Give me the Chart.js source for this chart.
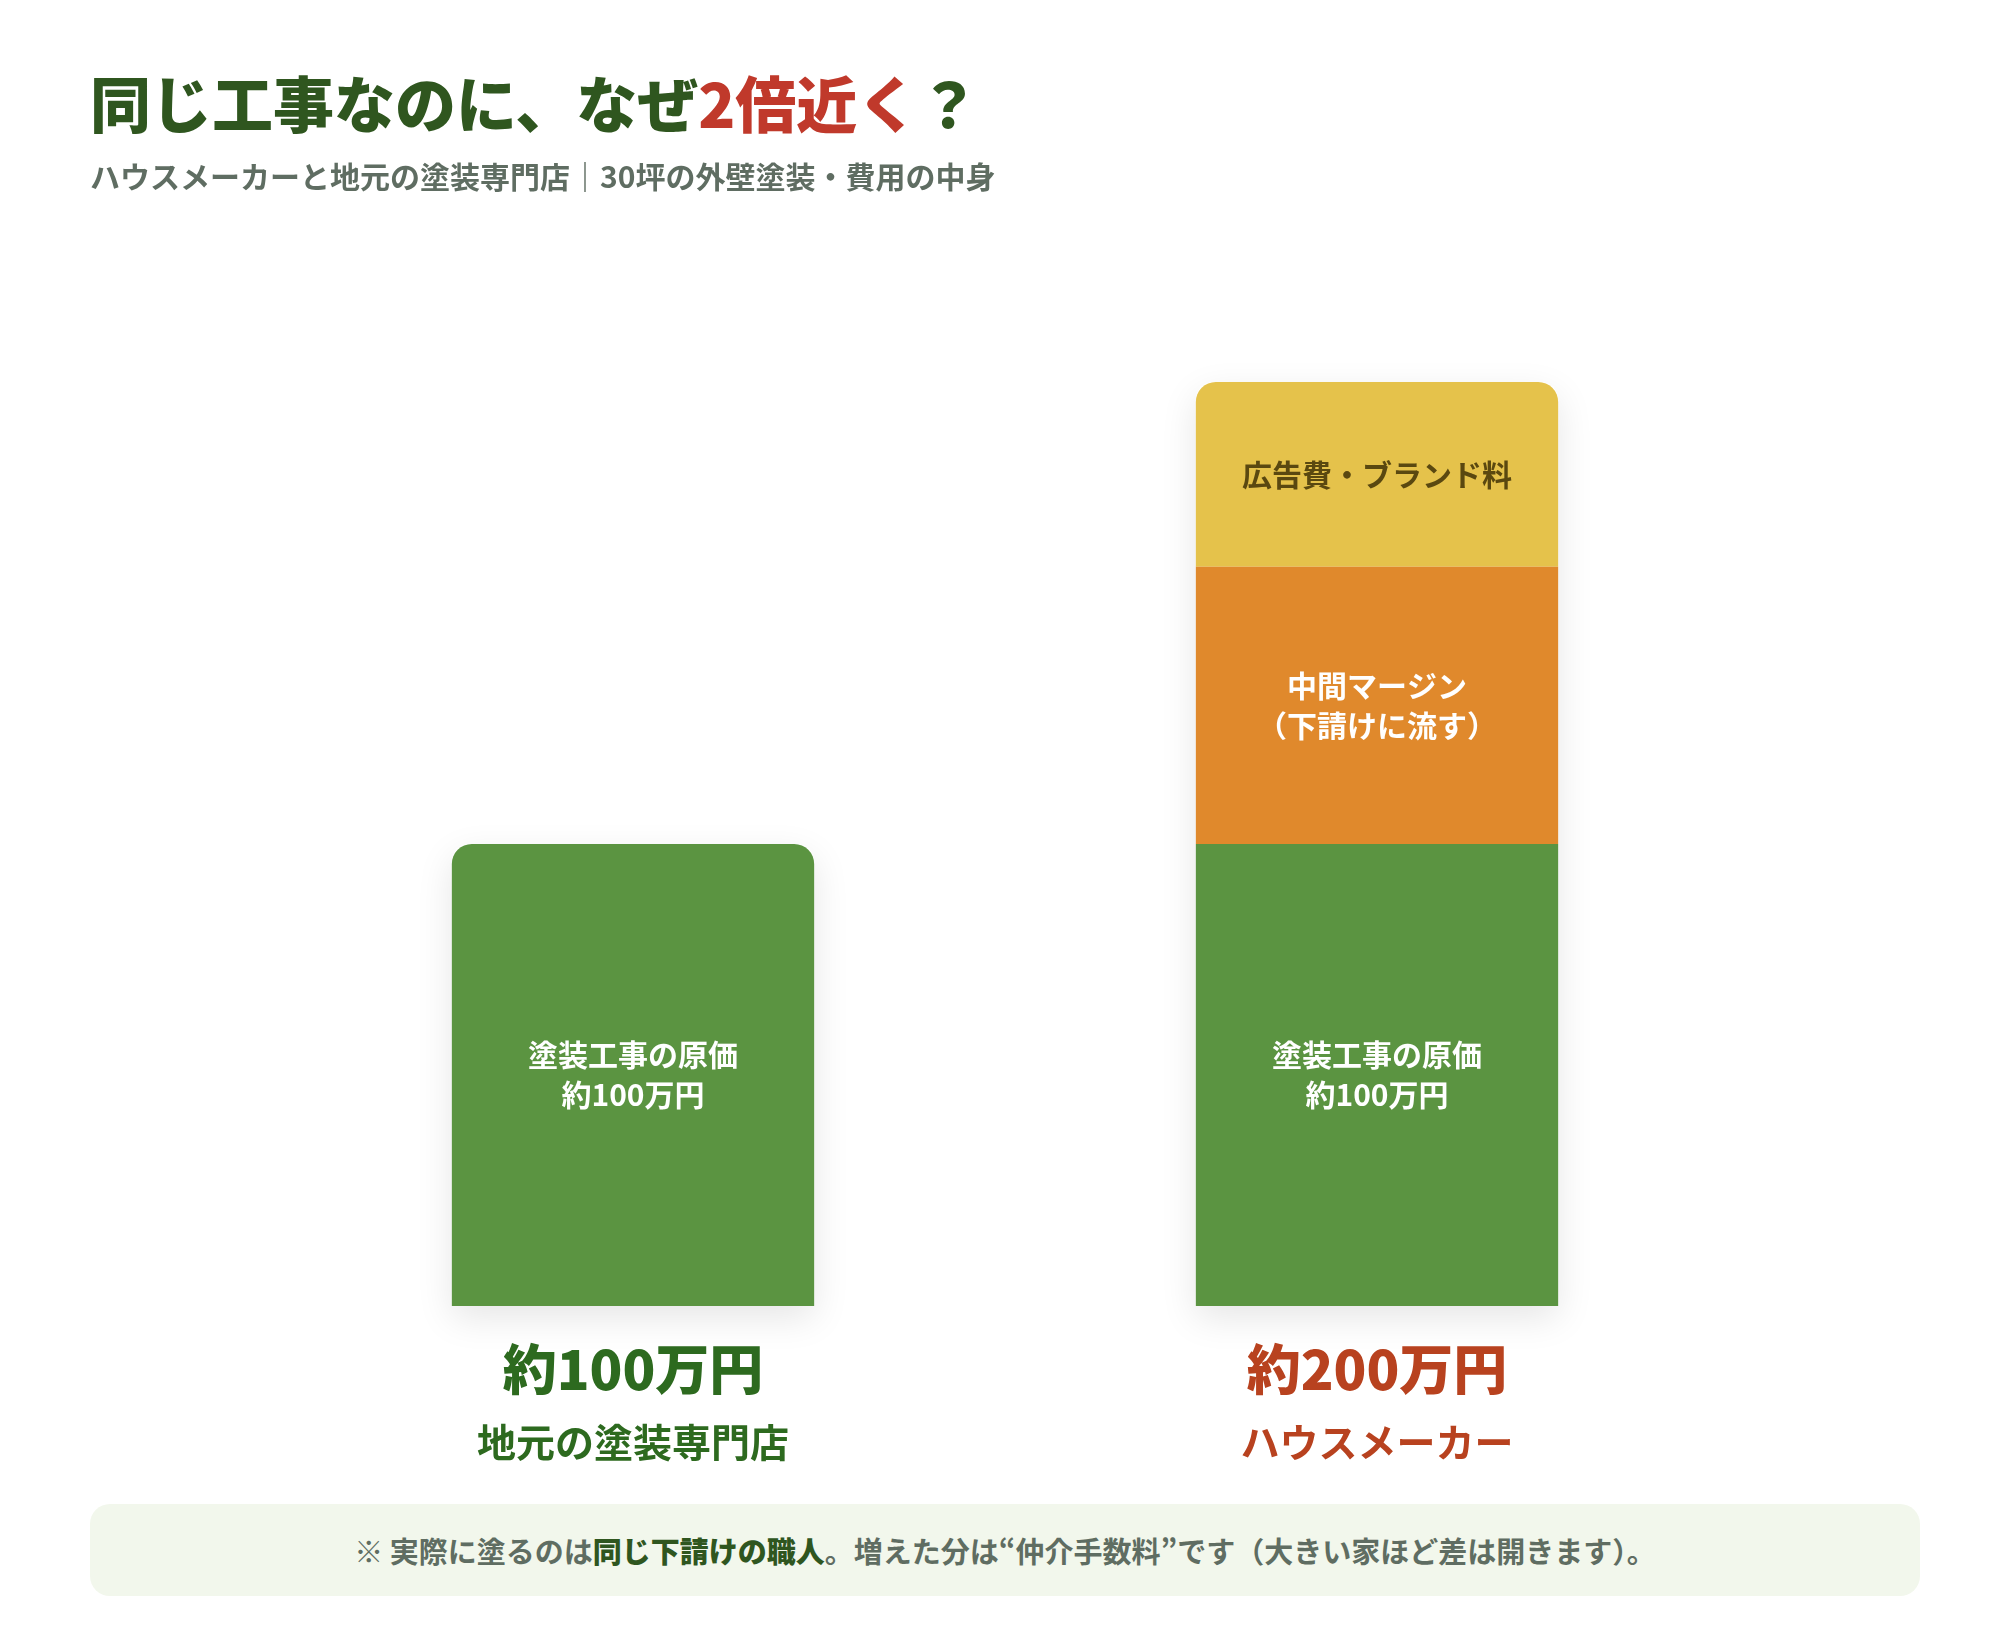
<!DOCTYPE html>
<html lang="ja">
<head>
<meta charset="utf-8">
<title>同じ工事なのに、なぜ2倍近く？</title>
<script src="https://cdn.jsdelivr.net/npm/chart.js@4.4.1/dist/chart.umd.min.js"></script>
<style>
  html, body { margin: 0; padding: 0; background: #fff; }
  body { width: 2000px; height: 1640px; position: relative; overflow: hidden;
         font-family: "Noto Sans CJK JP", "Noto Sans", sans-serif; font-weight: 700; }
  #chartWrap { position: absolute; left: 0; top: 0; width: 2000px; height: 1640px; }
  .title { position: absolute; left: 90px; top: 62px; margin: 0; font-size: 61px; line-height: 80px;
           color: #2f561f; font-weight: 900; }
  .title .hl { color: #c0392b; }
  .subtitle { position: absolute; left: 90px; top: 155px; margin: 0; font-size: 30px; line-height: 40px;
              color: #5f6d62; }
  .note { position: absolute; left: 90px; top: 1504px; width: 1830px; height: 92px; border-radius: 20px;
          background: #f2f7ec; color: #5f6d62; font-size: 29px; line-height: 92px; text-align: center; }
  .note b { color: #2f561f; }
</style>
</head>
<body>
<div id="chartWrap"><canvas id="myChart" width="2000" height="1640"></canvas></div>
<h1 class="title">同じ工事なのに、なぜ<span class="hl">2倍近く</span>？</h1>
<p class="subtitle">ハウスメーカーと地元の塗装専門店｜30坪の外壁塗装・費用の中身</p>
<div class="note">※ 実際に塗るのは<b>同じ下請けの職人</b>。増えた分は“仲介手数料”です（大きい家ほど差は開きます）。</div>

<script>
// data (万円)
var categories = ['地元の塗装専門店', 'ハウスメーカー'];
var totalLabels = ['約100万円', '約200万円'];
var genka = [100, 100];
var margin = [null, 60];
var ad = [null, 40];
var segmentLabels = [
    ['塗装工事の原価', '約100万円'],
    ['中間マージン', '（下請けに流す）'],
    ['広告費・ブランド料']
];

var FONT = '"Noto Sans CJK JP", "Noto Sans", sans-serif';
var catColors = ['#2d6a1f', '#b8421f'];
var labelColors = ['#ffffff', '#ffffff', '#5a4810'];

function roundRect(ctx, x, y, w, h, r) {
    ctx.beginPath();
    ctx.moveTo(x + r, y);
    ctx.lineTo(x + w - r, y);
    ctx.quadraticCurveTo(x + w, y, x + w, y + r);
    ctx.lineTo(x + w, y + h);
    ctx.lineTo(x, y + h);
    ctx.lineTo(x, y + r);
    ctx.quadraticCurveTo(x, y, x + r, y);
    ctx.closePath();
}

// soft shadow behind each whole stack
var shadowPlugin = {
    id: 'stackShadow',
    beforeDatasetsDraw: function (chart) {
        var ctx = chart.ctx;
        var n = chart.data.labels.length;
        for (var i = 0; i < n; i++) {
            var top = Infinity, bottom = -Infinity, x = 0, w = 0;
            chart.data.datasets.forEach(function (ds, d) {
                var el = chart.getDatasetMeta(d).data[i];
                if (!el || ds.data[i] == null) return;
                top = Math.min(top, el.y);
                bottom = Math.max(bottom, el.base);
                x = el.x; w = el.width;
            });
            if (top === Infinity) continue;
            ctx.save();
            ctx.shadowColor = 'rgba(0,0,0,0.10)';
            ctx.shadowBlur = 36;
            ctx.shadowOffsetY = 12;
            ctx.fillStyle = '#ffffff';
            roundRect(ctx, x - w / 2, top, w, bottom - top, 20);
            ctx.fill();
            ctx.restore();
        }
    }
};

// labels inside segments and under the bars
var labelPlugin = {
    id: 'barLabels',
    afterDatasetsDraw: function (chart) {
        var ctx = chart.ctx;
        ctx.save();
        ctx.textAlign = 'center';
        ctx.textBaseline = 'middle';
        chart.data.datasets.forEach(function (ds, d) {
            chart.getDatasetMeta(d).data.forEach(function (el, i) {
                if (ds.data[i] == null) return;
                var lines = segmentLabels[d];
                var cy = (el.y + el.base) / 2;
                var lh = 40;
                ctx.font = '700 30px ' + FONT;
                ctx.fillStyle = labelColors[d];
                lines.forEach(function (t, k) {
                    ctx.fillText(t, el.x, cy + (k - (lines.length - 1) / 2) * lh);
                });
            });
        });
        var xs = chart.scales.x;
        var bottom = chart.chartArea.bottom;
        categories.forEach(function (c, i) {
            var x = xs.getPixelForValue(i);
            ctx.fillStyle = catColors[i];
            ctx.font = '900 54px ' + FONT;
            ctx.fillText(totalLabels[i], x, bottom + 63);
            ctx.font = '700 39px ' + FONT;
            ctx.fillText(c, x, bottom + 136);
        });
        ctx.restore();
    }
};

var ctx = document.getElementById('myChart');

var chart = new Chart(ctx, {
    type: 'bar',
    data: {
        labels: categories,
        datasets: [
            {
                label: '塗装工事の原価',
                data: genka,
                backgroundColor: '#5b9441',
                borderRadius: function (c) {
                    return c.dataIndex === 0 ? { topLeft: 20, topRight: 20 } : 0;
                },
                borderSkipped: false
            },
            {
                label: '中間マージン',
                data: margin,
                backgroundColor: '#e0892c',
                borderRadius: 0,
                borderSkipped: false
            },
            {
                label: '広告費・ブランド料',
                data: ad,
                backgroundColor: '#e5c24b',
                borderRadius: { topLeft: 20, topRight: 20 },
                borderSkipped: false
            }
        ]
    },
    options: {
        responsive: false,
        animation: false,
        devicePixelRatio: 1,
        layout: { padding: { left: 261, right: 251, top: 382, bottom: 334 } },
        datasets: { bar: { categoryPercentage: 1, barPercentage: 0.487 } },
        scales: {
            x: { stacked: true, display: false },
            y: { stacked: true, display: false, min: 0, max: 200 }
        },
        plugins: {
            legend: { display: false },
            tooltip: { enabled: false }
        }
    },
    plugins: [shadowPlugin, labelPlugin]
});
</script>
</body>
</html>
